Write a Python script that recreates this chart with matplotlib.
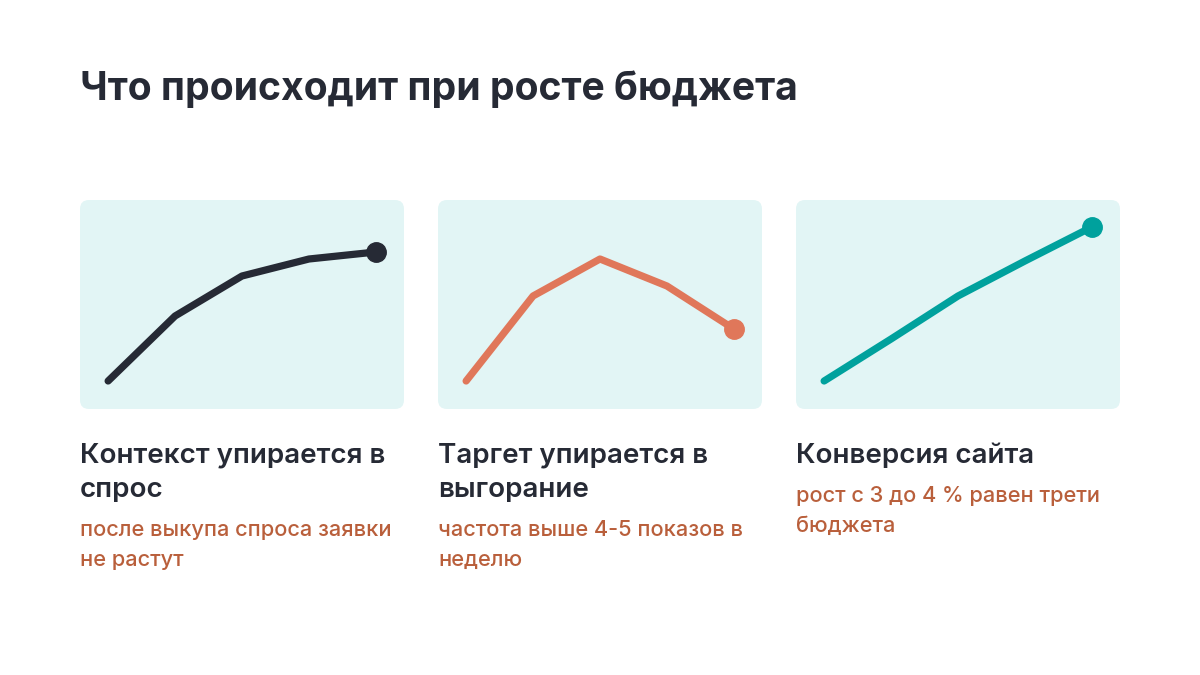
import matplotlib.pyplot as plt
from matplotlib.patches import FancyBboxPatch

plt.rcParams['font.family'] = ['Inter', 'DejaVu Sans']

W, H = 1200, 675

title = 'Что происходит при росте бюджета'

# heights of the line points inside each card (px from the card bottom)
steps = [0, 1, 2, 3, 4]
context_vals = [28, 93, 133, 150, 157]
target_vals = [28, 113, 150, 123, 80]
conversion_vals = [28, 70, 113, 148, 182]

headings = [['Контекст упирается в', 'спрос'],
            ['Таргет упирается в', 'выгорание'],
            ['Конверсия сайта']]
notes = [['после выкупа спроса заявки', 'не растут'],
         ['частота выше 4-5 показов в', 'неделю'],
         ['рост с 3 до 4 % равен трети', 'бюджета']]

series = [context_vals, target_vals, conversion_vals]
colors = ['#262a35', '#e0775a', '#00a19d']
dark = '#262a35'
note_color = '#b95f3b'
card_bg = '#e2f5f5'

card_left = [80, 438, 796]
card_w, card_top, card_h = 324, 200, 209

fig = plt.figure(figsize=(12, 6.75), dpi=100)


def fx(px):
    return px / W


def fy(py):
    return 1 - py / H


fig.text(fx(80), fy(100), title, fontsize=28.2, fontweight='bold', color=dark, va='baseline')

for i in range(3):
    x0 = card_left[i]
    r = 9 / W
    box = FancyBboxPatch((fx(x0), fy(card_top + card_h)), card_w / W, card_h / H,
                         boxstyle=f'round,pad=0,rounding_size={r}',
                         mutation_aspect=W / H, transform=fig.transFigure,
                         facecolor=card_bg, edgecolor='none', zorder=-1)
    fig.patches.append(box)

    ax = fig.add_axes([fx(x0), fy(card_top + card_h), card_w / W, card_h / H])
    ax.set_xlim(-0.42, 4.42)
    ax.set_ylim(0, card_h)
    ax.axis('off')
    ax.patch.set_alpha(0)
    ax.plot(steps, series[i], color=colors[i], lw=5.2, solid_capstyle='round',
            solid_joinstyle='round', zorder=2)
    ax.plot(steps[-1], series[i][-1], 'o', color=colors[i], ms=14, zorder=3)

    base = 463
    for line in headings[i]:
        fig.text(fx(x0), fy(base), line, fontsize=20, fontweight='semibold',
                 color=dark, va='baseline')
        base += 34
    base += 5
    for line in notes[i]:
        fig.text(fx(x0), fy(base), line, fontsize=15.7, fontweight='medium',
                 color=note_color, va='baseline')
        base += 30

fig.savefig('out.png', dpi=100, facecolor='white')
